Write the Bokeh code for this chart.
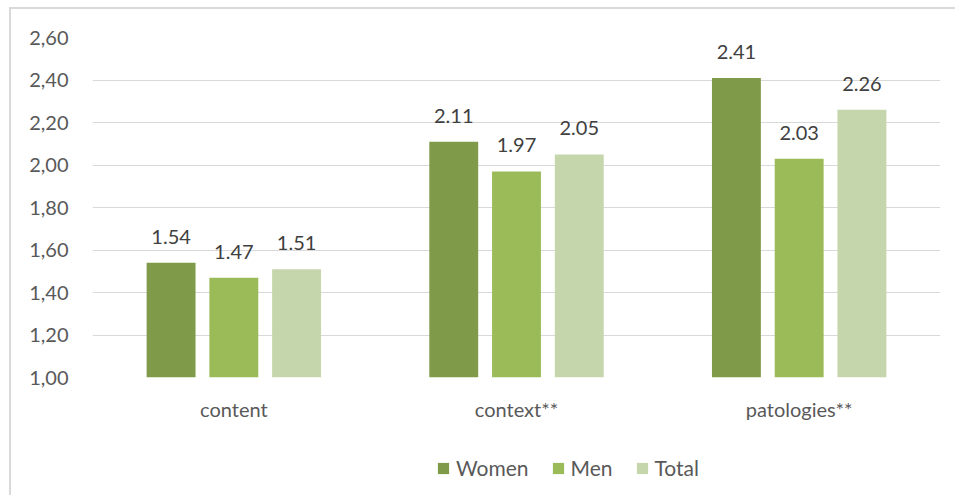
from bokeh.plotting import figure
from bokeh.layouts import column
from bokeh.models import ColumnDataSource, FactorRange, FixedTicker, Legend, LegendItem, Range1d
from bokeh.transform import dodge
from bokeh.embed import file_html
from bokeh.resources import INLINE
from bokeh.core.properties import value

categories = ["content", "context**", "patologies**"]
women = [1.54, 2.11, 2.41]
men = [1.47, 1.97, 2.03]
total = [1.51, 2.05, 2.26]
series_names = ["Women", "Men", "Total"]
colors = ["#7f9a48", "#9bbb59", "#c6d6ac"]
ticks = [1.0, 1.2, 1.4, 1.6, 1.8, 2.0, 2.2, 2.4, 2.6]
tick_labels = ["1,00", "1,20", "1,40", "1,60", "1,80", "2,00", "2,20", "2,40", "2,60"]

FONT = "Lato"

source = ColumnDataSource(dict(
    cat=categories, Women=women, Men=men, Total=total,
    Women_lbl=["%.2f" % v for v in women],
    Men_lbl=["%.2f" % v for v in men],
    Total_lbl=["%.2f" % v for v in total],
))

p = figure(x_range=FactorRange(factors=categories), y_range=Range1d(start=1.0, end=2.6),
           width=944, height=420, output_backend="svg", toolbar_location=None,
           min_border_left=81, min_border_right=15, min_border_top=28, min_border_bottom=52)
p.outline_line_color = None
p.xgrid.grid_line_color = None
p.ygrid.grid_line_color = "#d9d9d9"
p.ygrid.grid_line_width = 1
p.yaxis.ticker = FixedTicker(ticks=ticks)
p.yaxis.major_label_overrides = {t: l for t, l in zip(ticks, tick_labels)}
for ax in (p.xaxis, p.yaxis):
    ax.axis_line_color = None
    ax.major_tick_line_color = None
    ax.minor_tick_line_color = None
    ax.major_label_text_font = FONT
    ax.major_label_text_color = "#595959"
    ax.major_label_text_font_size = "20px"
p.yaxis.major_label_standoff = 18
p.xaxis.major_label_standoff = 13

offsets = [-0.222, 0.0, 0.222]
for name, off, col in zip(series_names, offsets, colors):
    p.vbar(x=dodge("cat", off, range=p.x_range), top=name, bottom=1.0, width=0.173,
           source=source, fill_color=col, line_color=None)
    p.text(x=dodge("cat", off, range=p.x_range), y=name, text=name + "_lbl", source=source,
           text_align="center", text_baseline="alphabetic", y_offset=-26,
           text_font=value(FONT), text_font_size="20px", text_color="#404040")

# legend strip below the chart (its zero-width bars lie outside its visible range)
lg = figure(x_range=FactorRange(factors=categories), y_range=Range1d(start=10.0, end=11.0),
            width=944, height=66, output_backend="svg", toolbar_location=None,
            min_border_left=0, min_border_right=0, min_border_top=0, min_border_bottom=0)
lg.axis.visible = False
lg.grid.visible = False
lg.outline_line_color = None
items = []
for name, col in zip(series_names, colors):
    r = lg.vbar(x="cat", top=name, bottom=1.0, width=0.0, source=source,
                fill_color=col, line_color=None)
    items.append(LegendItem(label=name, renderers=[r]))
legend = Legend(items=items, orientation="horizontal", location=(344, 15), margin=0,
                padding=5, label_text_font=FONT, label_text_font_size="21px",
                label_text_color="#595959", glyph_width=14, glyph_height=14,
                spacing=22, label_standoff=6, border_line_color=None,
                background_fill_alpha=0)
lg.add_layout(legend, "center")

layout = column(p, lg, spacing=0)
layout.styles = {"margin": "7px 0 0 9px", "border-left": "2px solid #d9d9d9",
                 "border-top": "2px solid #d9d9d9"}

open("out.html", "w").write(file_html(layout, INLINE))
